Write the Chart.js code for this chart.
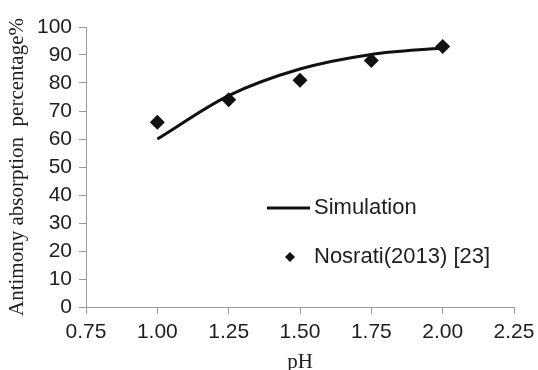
<!DOCTYPE html>
<html>
<head>
<meta charset="utf-8">
<script src="https://cdn.jsdelivr.net/npm/chart.js@4/dist/chart.umd.min.js"></script>
<style>
  html, body { margin: 0; padding: 0; background: #fff; }
  #wrap { width: 538px; height: 370px; position: relative; }
</style>
</head>
<body>
<div id="wrap"><canvas id="phChart"></canvas></div>
<script>
// pH values and absorption percentages
const phValues = [1.00, 1.25, 1.50, 1.75, 2.00];
const simulation = [60, 75.5, 85, 90.2, 92.5];
const nosrati = [66, 74, 81, 88, 93];

const xTicks = [0.75, 1.00, 1.25, 1.50, 1.75, 2.00, 2.25];
const yTicks = [0, 10, 20, 30, 40, 50, 60, 70, 80, 90, 100];

const sansFont = "'Liberation Sans', Arial, sans-serif";
const serifFont = "'Liberation Serif', 'Times New Roman', serif";
const axisGray = "#9a9a9a";
const textColor = "#1e1e1e";

function toPoints(xs, ys) {
  return xs.map((x, i) => ({ x: x, y: ys[i] }));
}

/**
 * Legend drawn inside the plot area, like the original figure
 */
const insideLegend = {
  id: "insideLegend",
  afterDraw(chart) {
    const ctx = chart.ctx;
    const sets = chart.data.datasets;
    ctx.save();
    ctx.font = "22px " + sansFont;
    ctx.fillStyle = textColor;
    ctx.textBaseline = "middle";

    // line entry
    ctx.strokeStyle = sets[0].borderColor;
    ctx.lineWidth = 3;
    ctx.beginPath();
    ctx.moveTo(267, 208);
    ctx.lineTo(310, 208);
    ctx.stroke();
    ctx.fillText(sets[0].label, 314, 208);

    // marker entry
    const cx = 290, cy = 257, r = 5;
    ctx.fillStyle = sets[1].backgroundColor;
    ctx.beginPath();
    ctx.moveTo(cx, cy - r);
    ctx.lineTo(cx + r, cy);
    ctx.lineTo(cx, cy + r);
    ctx.lineTo(cx - r, cy);
    ctx.closePath();
    ctx.fill();
    ctx.fillStyle = textColor;
    ctx.fillText(sets[1].label, 314, 257);
    ctx.restore();
  },
};

new Chart(document.getElementById("phChart").getContext("2d"), {
  type: "scatter",
  data: {
    datasets: [
      {
        label: "Simulation",
        data: toPoints(phValues, simulation),
        showLine: true,
        borderColor: "#111",
        borderWidth: 3,
        cubicInterpolationMode: "monotone",
        pointRadius: 0,
        pointHoverRadius: 0,
        fill: false,
      },
      {
        label: "Nosrati(2013) [23]",
        data: toPoints(phValues, nosrati),
        showLine: false,
        pointStyle: "rectRot",
        pointRadius: 7.5,
        backgroundColor: "#111",
        borderColor: "#111",
        borderWidth: 0,
      },
    ],
  },
  options: {
    responsive: true,
    maintainAspectRatio: false,
    animation: false,
    layout: { padding: { top: 27, right: 24, left: 0, bottom: 0 } },
    plugins: {
      legend: { display: false },
      tooltip: { enabled: false },
    },
    scales: {
      x: {
        type: "linear",
        min: 0.75,
        max: 2.25,
        afterFit: (scale) => {
          scale.height = 63;
          scale.paddingLeft = 0;
          scale.paddingRight = 0;
        },
        afterBuildTicks: (scale) => {
          scale.ticks = xTicks.map((v) => ({ value: v }));
        },
        ticks: {
          callback: (v) => Number(v).toFixed(2),
          font: { family: sansFont, size: 21 },
          color: textColor,
          padding: 6,
          maxRotation: 0,
          autoSkip: false,
        },
        grid: { drawOnChartArea: false, tickLength: 7, color: axisGray },
        border: { color: axisGray },
        title: {
          display: true,
          text: "pH",
          font: { family: serifFont, size: 21 },
          color: textColor,
          padding: { top: 0, bottom: -5 },
        },
      },
      y: {
        min: 0,
        max: 100,
        afterFit: (scale) => {
          scale.width = 86;
          scale.paddingTop = 0;
          scale.paddingBottom = 0;
        },
        afterBuildTicks: (scale) => {
          scale.ticks = yTicks.map((v) => ({ value: v }));
        },
        ticks: {
          font: { family: sansFont, size: 21 },
          color: textColor,
          padding: 7,
          autoSkip: false,
        },
        grid: { drawOnChartArea: false, tickLength: 7, color: axisGray },
        border: { color: axisGray },
        title: {
          display: true,
          text: "Antimony absorption  percentage%",
          font: { family: serifFont, size: 21 },
          color: textColor,
          padding: { top: 5, bottom: 4 },
        },
      },
    },
  },
  plugins: [insideLegend],
});
</script>
</body>
</html>
